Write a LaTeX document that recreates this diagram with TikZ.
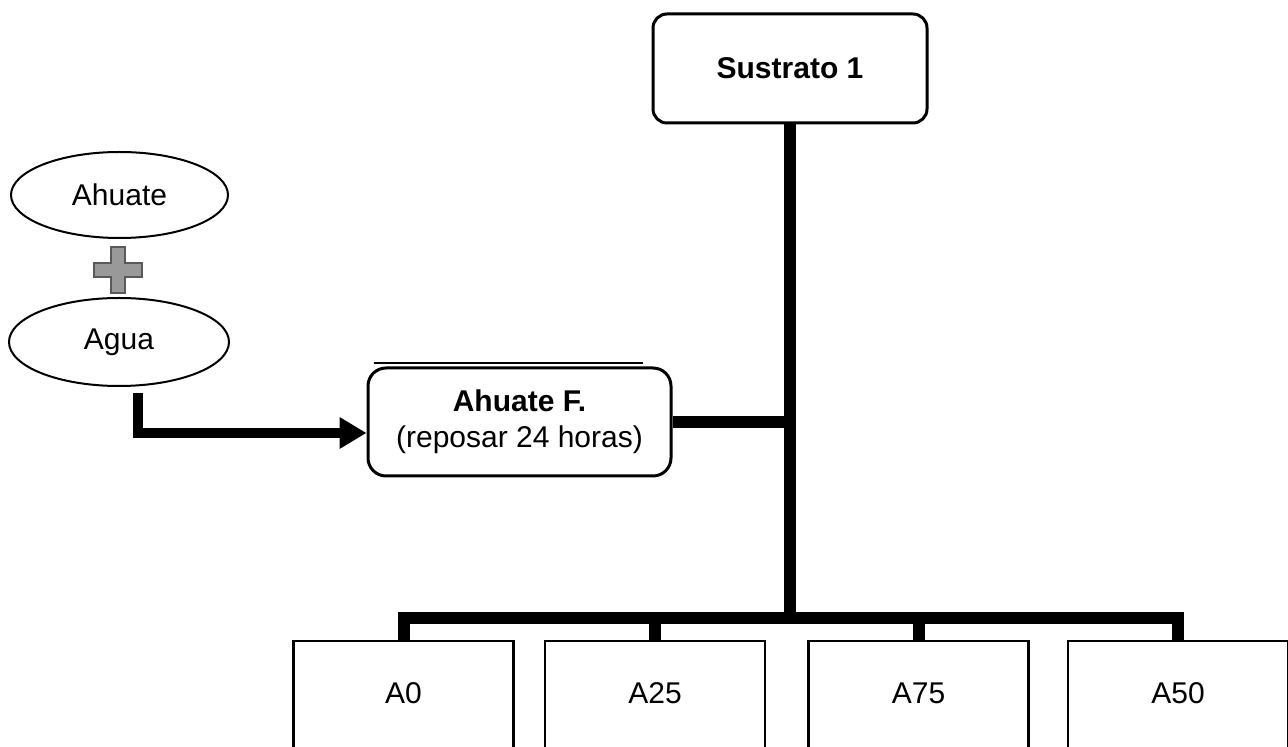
\documentclass[tikz,border=0pt]{standalone}
\usepackage{fontspec}
\setmainfont{Liberation Sans}
\usetikzlibrary{arrows.meta,shapes.geometric}
\begin{document}
\begin{tikzpicture}[x=1pt,y=1pt,
  font=\fontsize{30}{35}\selectfont,
  stage/.style={draw, line width=3pt, fill=white, align=center, inner sep=0pt},
  ingr/.style={draw, ellipse, line width=2pt, inner sep=0pt},
  sample/.style={draw, line width=2.5pt, minimum width=220pt, minimum height=120pt, inner sep=0pt},
  bar/.style={line width=12pt},
  feed/.style={line width=10pt, -{Triangle[length=27pt,width=30pt]}},
  plusmark/.style={draw=black!65, line width=1.2pt, fill=black!40},
]
\useasboundingbox (0,0) rectangle (1288,747);
\clip (0,0) rectangle (1288,747);

% main substrate and the soaked ahuate
\node[stage, rounded corners=14pt, minimum width=274pt, minimum height=109pt] (sus) at (790,678.5) {\bfseries Sustrato 1};
\node[stage, rounded corners=18pt, minimum width=303pt, minimum height=108pt] (ahf) at (519.5,325)
  {\bfseries Ahuate F.\\[1pt](reposar 24 horas)};
\draw[line width=2pt] ([shift={(7,3)}]ahf.north west) -- ([shift={(-30,3)}]ahf.north east);

% ingredients
\node[ingr, minimum width=217pt, minimum height=86pt] (ahuate) at (119.5,552) {Ahuate};
\node[ingr, minimum width=220pt, minimum height=88pt] (agua) at (119,405) {Agua};
\coordinate (plus) at (118,477);
\draw[plusmark, shift={(plus)}] (-7,23) -- (7,23) -- (7,7) -- (24,7) -- (24,-7) -- (7,-7)
  -- (7,-23) -- (-7,-23) -- (-7,-7) -- (-24,-7) -- (-24,7) -- (-7,7) -- cycle;

% mixture into the soaked ahuate
\coordinate (aguaout) at (138,354);
\coordinate (arrowin) at ([yshift=-11pt]ahf.west);
\draw[feed] (aguaout) |- (arrowin);

% treatments
\node[sample] (a0)  at (403.5,46) {};
\node[sample] (a25) at (655,46) {};
\node[sample] (a75) at (918.5,46) {};
\node[sample] (a50) at (1178,46) {};
\node (t0)  at (403.5,54) {A0};
\node (t25) at (655,54) {A25};
\node (t75) at (918.5,54) {A75};
\node (t50) at (1178,54) {A50};

% connectors
\coordinate (bus) at (790,129);
\draw[bar] (sus.south) -- (bus);
\draw[bar] (ahf.east) -- (ahf.east -| bus);
\draw[bar, line join=miter] (a0.north) |- (bus) -| (a50.north);
\draw[bar] (a25.north) -- (a25.north |- bus);
\draw[bar] (a75.north) -- (a75.north |- bus);
\end{tikzpicture}
\end{document}
